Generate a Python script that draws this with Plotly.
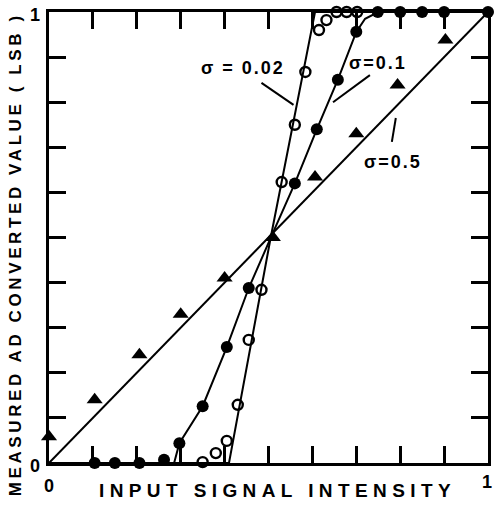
import plotly.graph_objects as go

# sigma = 0.5 (triangles)
tri_x = [0.0, 0.104, 0.206, 0.30, 0.40, 0.51, 0.606, 0.70, 0.794, 0.903]
tri_y = [0.058, 0.14, 0.24, 0.33, 0.41, 0.50, 0.634, 0.73, 0.838, 0.938]
line05_x = [0.0, 1.0]
line05_y = [0.0, 1.0]

# sigma = 0.1 (filled circles)
dot_x = [0.104, 0.15, 0.206, 0.262, 0.297, 0.35, 0.405, 0.455, 0.56, 0.61, 0.658, 0.70, 0.749, 0.80, 0.85, 0.90, 1.0]
dot_y = [0.0, 0.0, 0.0, 0.007, 0.044, 0.126, 0.257, 0.388, 0.62, 0.74, 0.85, 0.956, 1.0, 1.0, 1.0, 1.0, 1.0]
line01_x = [0.0, 0.285, 0.297, 0.35, 0.405, 0.455, 0.505, 0.56, 0.61, 0.658, 0.70, 0.72, 0.75, 1.0]
line01_y = [0.0, 0.0, 0.044, 0.126, 0.257, 0.388, 0.499, 0.62, 0.74, 0.85, 0.956, 0.985, 1.0, 1.0]

# sigma = 0.02 (open circles)
ring_x = [0.303, 0.328, 0.350, 0.380, 0.405, 0.430, 0.455, 0.484, 0.53, 0.56, 0.584, 0.615, 0.632, 0.655, 0.678, 0.702]
ring_y = [-0.009, -0.009, 0.002, 0.022, 0.049, 0.129, 0.273, 0.384, 0.623, 0.75, 0.867, 0.96, 0.982, 1.0, 1.0, 1.0]
line002_x = [0.0, 0.41, 0.505, 0.606, 1.0]
line002_y = [0.0, 0.0, 0.5, 1.0, 1.0]

tick_vals = [0.0, 0.1, 0.2, 0.3, 0.4, 0.5, 0.6, 0.7, 0.8, 0.9, 1.0]
end_labels = ["0", "1"]
end_vals = [0.0, 1.0]

labels = ["σ = 0.02", "σ=0.1", "σ=0.5"]
label_x = [0.443, 0.749, 0.783]
label_y = [0.876, 0.887, 0.667]
leader_x0 = [0.484, 0.731, 0.790]
leader_y0 = [0.843, 0.860, 0.765]
leader_x1 = [0.557, 0.647, 0.781]
leader_y1 = [0.794, 0.800, 0.712]

x_title = "INPUT SIGNAL INTENSITY"
y_title = "MEASURED AD CONVERTED VALUE ( LSB )"

FONT = "Liberation Sans"
L, R, T, B, W, H = 49, 4, 12, 44, 495, 507
PW, PH = W - L - R, H - T - B


def px_x(p):
    return (p - L) / PW


def px_y(p):
    return (H - B - p) / PH


fig = go.Figure()
lw = 2
for lx, ly in [(line05_x, line05_y), (line01_x, line01_y), (line002_x, line002_y)]:
    fig.add_trace(go.Scatter(x=lx, y=ly, mode="lines", line=dict(color="black", width=lw),
                             cliponaxis=False, showlegend=False, hoverinfo="skip"))
fig.add_trace(go.Scatter(x=tri_x, y=tri_y, mode="markers", cliponaxis=False, showlegend=False,
                         marker=dict(symbol="triangle-up", size=14, color="black")))
fig.add_trace(go.Scatter(x=dot_x, y=dot_y, mode="markers", cliponaxis=False, showlegend=False,
                         marker=dict(symbol="circle", size=12, color="black")))
fig.add_trace(go.Scatter(x=ring_x, y=ring_y, mode="markers", cliponaxis=False, showlegend=False,
                         marker=dict(symbol="circle-open", size=10, color="black", line=dict(width=2.4))))

for t, x, y in zip(labels, label_x, label_y):
    fig.add_annotation(x=x, y=y, xref="x", yref="y", text=f'<span style="letter-spacing:2px">{t}</span>',
                       showarrow=False, xanchor="center", yanchor="middle",
                       font=dict(family=FONT, size=18, color="black", weight="bold"))
for x0, y0, x1, y1 in zip(leader_x0, leader_y0, leader_x1, leader_y1):
    fig.add_shape(type="line", x0=x0, y0=y0, x1=x1, y1=y1, xref="x", yref="y",
                  line=dict(color="black", width=2))

# tick labels at the ends of each axis
tfont = dict(family=FONT, size=18, color="black", weight="bold")
for t, v in zip(end_labels, end_vals):
    fig.add_annotation(x=px_x(35), y=v, xref="paper", yref="y", text=t, showarrow=False,
                       font=tfont, xanchor="center", yanchor="middle", yshift=-3)
fig.add_annotation(x=end_vals[0], y=px_y(486), xref="x", yref="paper", text=end_labels[0],
                   showarrow=False, font=tfont, xanchor="center", yanchor="middle")
fig.add_annotation(x=end_vals[1], y=px_y(482), xref="x", yref="paper", text=end_labels[1],
                   showarrow=False, font=tfont, xanchor="right", yanchor="middle", xshift=6)

fig.add_annotation(x=px_x(279), y=px_y(490), xref="paper", yref="paper",
                   text=f'<span style="letter-spacing:5.4px">{x_title}</span>', showarrow=False,
                   xanchor="center", yanchor="middle",
                   font=dict(family=FONT, size=19, color="black", weight="bold"))
fig.add_annotation(x=px_x(15), y=px_y(254), xref="paper", yref="paper",
                   text=f'<span style="letter-spacing:3.6px">{y_title}</span>',
                   showarrow=False, textangle=-90, xanchor="center", yanchor="middle",
                   font=dict(family=FONT, size=17, color="black", weight="bold"))

axis_common = dict(range=[0, 1], tickmode="array", tickvals=tick_vals, showticklabels=False,
                   ticks="inside", ticklen=17, tickwidth=3, tickcolor="black",
                   showline=True, linewidth=3, linecolor="black", mirror="ticks",
                   showgrid=False, zeroline=False)
fig.update_layout(
    width=W, height=H,
    margin=dict(l=L, r=R, t=T, b=B),
    paper_bgcolor="white", plot_bgcolor="white",
    xaxis=axis_common,
    yaxis=axis_common,
)
fig.write_html("out.html", config={"displayModeBar": False},
               post_script="document.body.style.margin='0';")
